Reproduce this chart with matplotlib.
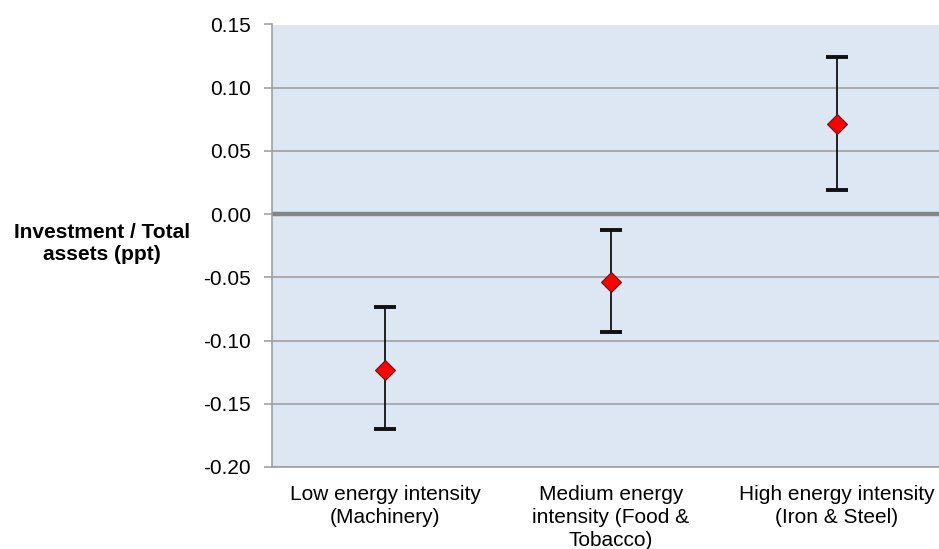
import matplotlib.pyplot as plt
import numpy as np

# categories and estimates
categories = ["Low energy intensity\n(Machinery)",
              "Medium energy\nintensity (Food &\nTobacco)",
              "High energy intensity\n(Iron & Steel)"]
estimate = [-0.123, -0.054, 0.071]
upper = [-0.0735, -0.0125, 0.1245]
lower = [-0.170, -0.093, 0.019]

yticks = [0.15, 0.10, 0.05, 0.00, -0.05, -0.10, -0.15, -0.20]

est = np.array(estimate)
err = [est - np.array(lower), np.array(upper) - est]
x = np.arange(len(categories))

fig = plt.figure(figsize=(9.39, 5.49), dpi=100)
ax = fig.add_axes([272 / 939, 1 - 467 / 549, 678 / 939, (467 - 24.5) / 549])
ax.set_facecolor("#dce7f3")

for y in yticks:
    if y != 0:
        ax.axhline(y, color="#9a9a9a", lw=1.1, zorder=1)
ax.axhline(0, color="#858585", lw=3.2, zorder=1)

# whiskers and caps
ax.errorbar(x, est, yerr=err, fmt="none", ecolor="#111111",
            elinewidth=1.3, capsize=8, capthick=2.8, zorder=3)
# point estimates
ax.plot(x, est, "D", markerfacecolor="red", markeredgecolor="#5a1a1a",
        markeredgewidth=0.8, markersize=10.5, zorder=4)

ax.set_xlim(-0.5, 2.5)
ax.set_ylim(-0.20, 0.15)
ax.set_yticks(yticks)
ax.set_yticklabels([f"{v:.2f}" for v in yticks], fontsize=15,
                   family=["Liberation Sans", "DejaVu Sans"])
ax.set_xticks(x)
ax.set_xticklabels(categories, fontsize=15,
                   family=["Liberation Sans", "DejaVu Sans"],
                   linespacing=1.25)
ax.tick_params(axis="y", length=6, width=1.1, color="#9a9a9a", pad=9)
ax.tick_params(axis="x", length=0, pad=13)

for side in ["top", "right"]:
    ax.spines[side].set_visible(False)
ax.spines["left"].set_color("#9a9a9a")
ax.spines["bottom"].set_color("#9a9a9a")
ax.spines["left"].set_linewidth(1.1)
ax.spines["bottom"].set_linewidth(1.1)

fig.text(102 / 939, 1 - 244 / 549, "Investment / Total\nassets (ppt)",
         ha="center", va="center", fontsize=15, fontweight="bold",
         family=["Liberation Sans", "DejaVu Sans"], linespacing=1.2)

fig.savefig("out.png", dpi=100)
